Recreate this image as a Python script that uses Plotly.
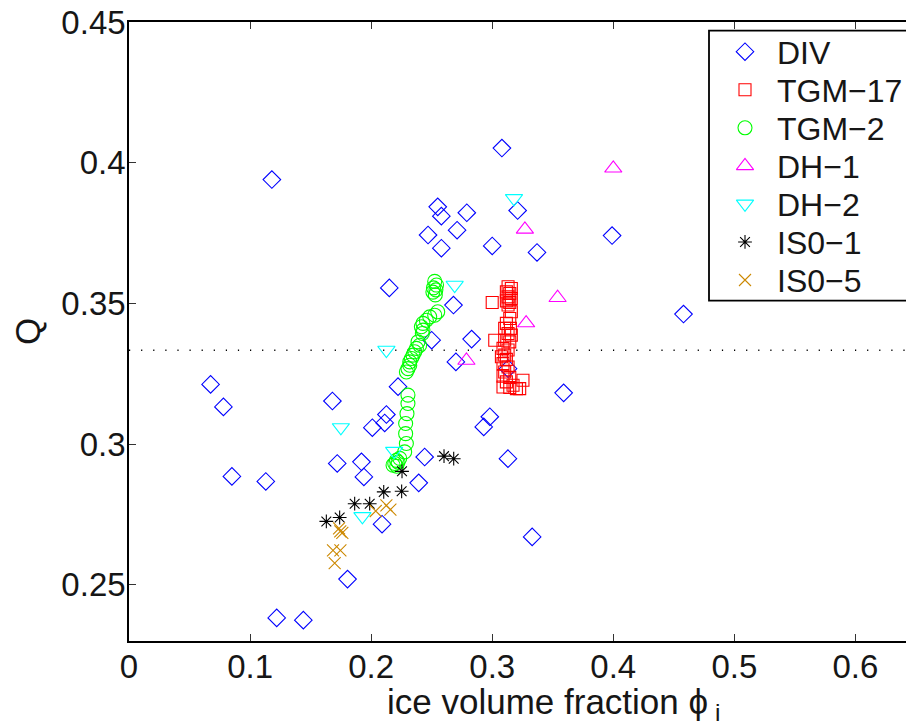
import plotly.graph_objects as go

# ---------------- data ----------------
div_x = [0.118, 0.255, 0.258, 0.247, 0.258, 0.215, 0.250, 0.308, 0.321, 0.279, 0.271, 0.399,
         0.300, 0.337, 0.268, 0.458, 0.283, 0.270, 0.0674, 0.078, 0.085, 0.113, 0.122, 0.144,
         0.168, 0.172, 0.192, 0.194, 0.201, 0.2126, 0.2112, 0.2222, 0.2442, 0.2393, 0.209,
         0.1805, 0.359, 0.298, 0.293, 0.313, 0.333, 0.3131]
div_y = [0.394, 0.3843, 0.381, 0.3743, 0.3696, 0.3555, 0.3369, 0.4052, 0.383, 0.3822, 0.376, 0.3741,
         0.3704, 0.3681, 0.3494, 0.3462, 0.3373, 0.3292, 0.3212, 0.3132, 0.2885, 0.2867, 0.2382, 0.2374,
         0.3153, 0.2931, 0.2937, 0.2883, 0.3058, 0.3105, 0.3075, 0.3204, 0.2954, 0.2862, 0.2715,
         0.252, 0.3182, 0.3097, 0.3061, 0.2948, 0.267, 0.3268]

tgm17_x = [0.300, 0.3131, 0.3158, 0.3117, 0.3145, 0.3131, 0.3158, 0.3117, 0.3145, 0.3131,
           0.3158, 0.3145, 0.3117, 0.3103, 0.3150, 0.3131, 0.3158, 0.3021, 0.3103, 0.3145,
           0.3089, 0.3131, 0.3103, 0.3076, 0.3117, 0.3089, 0.3131, 0.3103, 0.3089, 0.3145,
           0.3117, 0.3254, 0.3172, 0.3089, 0.3145, 0.3200, 0.3227]
tgm17_y = [0.3503, 0.3559, 0.3553, 0.3541, 0.3535, 0.3523, 0.3517, 0.3509, 0.3503, 0.3494,
           0.3470, 0.3446, 0.3429, 0.3411, 0.3411, 0.3393, 0.3387, 0.3369, 0.3369, 0.3363,
           0.3340, 0.3334, 0.3316, 0.3310, 0.3301, 0.3286, 0.3274, 0.3256, 0.3241, 0.3237,
           0.3221, 0.3227, 0.3209, 0.3203, 0.3201, 0.3197, 0.3197]

tgm2_x = [0.2525, 0.2540, 0.2515, 0.2535, 0.2510, 0.2530,
          0.2550, 0.2525, 0.2484, 0.2456, 0.2428, 0.2415, 0.2428, 0.2423,
          0.2387, 0.2401, 0.2374, 0.2360, 0.2346, 0.2333, 0.2319, 0.2319, 0.2304, 0.2291,
          0.2304, 0.2304, 0.2296, 0.2285, 0.2285, 0.2291, 0.2277,
          0.2209, 0.2195, 0.2222, 0.2181, 0.2236, 0.2211]
tgm2_y = [0.3578, 0.3565, 0.3555, 0.3548, 0.3540, 0.3530,
          0.3470, 0.3458, 0.3452, 0.3440, 0.3429, 0.3417, 0.3405, 0.3393,
          0.3363, 0.3351, 0.3340, 0.3328, 0.3316, 0.3304, 0.3292, 0.3280, 0.3268, 0.3256,
          0.3174, 0.3144, 0.3108, 0.3073, 0.3037, 0.3002, 0.2972,
          0.2942, 0.2931, 0.2936, 0.2925, 0.2949, 0.2921]

dh1_x = [0.400, 0.327, 0.354, 0.328, 0.2787]
dh1_y = [0.398, 0.3763, 0.352, 0.343, 0.3297]

dh2_x = [0.318, 0.269, 0.2126, 0.175, 0.219, 0.1928]
dh2_y = [0.3873, 0.3565, 0.3334, 0.3059, 0.2975, 0.2743]

is01_x = [0.163, 0.174, 0.1864, 0.1988, 0.2104, 0.2252, 0.2255, 0.2602, 0.2682]
is01_y = [0.2725, 0.2739, 0.2788, 0.2788, 0.2830, 0.2832, 0.2903, 0.2957, 0.2948]

is05_x = [0.1735, 0.1762, 0.1745, 0.1685, 0.1746, 0.1699, 0.2038, 0.2126, 0.2159]
is05_y = [0.2700, 0.2684, 0.2690, 0.2622, 0.2622, 0.2577, 0.2762, 0.2782, 0.2767]

q_ref = 1.0 / 3.0

x_tickvals = [0, 0.1, 0.2, 0.3, 0.4, 0.5, 0.6]
x_ticktext = ["0", "0.1", "0.2", "0.3", "0.4", "0.5", "0.6"]
y_tickvals = [0.25, 0.30, 0.35, 0.40, 0.45]
y_ticktext = ["0.25", "0.3", "0.35", "0.4", "0.45"]

names = ["DIV", "TGM\u221217", "TGM\u22122", "DH\u22121", "DH\u22122", "IS0\u22121", "IS0\u22125"]
colors = ["#0000FF", "#FF0000", "#00FF00", "#FF00FF", "#00FFFF", "#000000", "#CC8800"]
symbols = ["diamond-open", "square-open", "circle-open", "triangle-up-open",
           "triangle-down-open", "asterisk-open", "x-thin-open"]
sizes = [13.5, 12, 14, 15, 15, 11.5, 12]

# ---------------- figure ----------------
W, H = 906, 726
L, R, T, B = 129, 0, 22, 85
FONT = "Liberation Sans, Arial, Helvetica, sans-serif"
TXT = "#161616"
FS_TICK = 33
FS_TITLE = 35
FS_LEG = 32

fig = go.Figure()

series = [(div_x, div_y), (tgm17_x, tgm17_y), (tgm2_x, tgm2_y), (dh1_x, dh1_y),
          (dh2_x, dh2_y), (is01_x, is01_y), (is05_x, is05_y)]

# reference line
fig.add_trace(go.Scatter(x=[0, 0.7], y=[q_ref, q_ref], mode="lines",
                         line=dict(color="black", width=1.5, dash="1.2px,10.9px"),
                         showlegend=False, hoverinfo="skip"))

for (xs, ys), nm, c, s, sz in zip(series, names, colors, symbols, sizes):
    fig.add_trace(go.Scatter(x=xs, y=ys, mode="markers", name=nm, showlegend=False,
                             marker=dict(symbol=s, size=sz, color=c,
                                         line=dict(color=c, width=1.1))))

# manual legend (drawn on overlay axis with [0,1] range)
pw = W - L - R
ph = H - T - B
def px2x(px):
    return (px - L) / pw
def py2y(py):
    return (H - B - py) / ph

leg_x0, leg_y0, leg_y1 = 709, 30.7, 300.7
fig.add_shape(type="rect", xref="paper", yref="paper",
              x0=px2x(leg_x0), x1=px2x(W + 20), y0=py2y(leg_y1), y1=py2y(leg_y0),
              line=dict(color="black", width=1.8), fillcolor="white", layer="below")
first_py, step = 51.7, 38.05
for i, (nm, c, s, sz) in enumerate(zip(names, colors, symbols, sizes)):
    py = first_py + i * step
    fig.add_trace(go.Scatter(x=[px2x(745)], y=[py2y(py)], xaxis="x2", yaxis="y2",
                             mode="markers", showlegend=False, cliponaxis=False,
                             marker=dict(symbol=s, size=sz, color=c, line=dict(color=c, width=1.1)),
                             hoverinfo="skip"))
    fig.add_annotation(x=px2x(775), y=py2y(py + 1), xref="paper", yref="paper",
                       text=nm, showarrow=False, xanchor="left", yanchor="middle",
                       font=dict(family=FONT, size=FS_LEG, color=TXT))

# axis titles
fig.add_annotation(x=px2x(553), y=py2y(704), xref="paper", yref="paper",
                   text="ice volume fraction \u03d5<sub> i</sub>", showarrow=False,
                   xanchor="center", yanchor="middle",
                   font=dict(family=FONT, size=FS_TITLE, color=TXT))
fig.add_annotation(x=px2x(27), y=py2y(332), xref="paper", yref="paper",
                   text="Q", showarrow=False, textangle=-90,
                   xanchor="center", yanchor="middle",
                   font=dict(family=FONT, size=FS_TITLE, color=TXT))

x_max = (W - L) / 1210.7
fig.update_layout(
    width=W, height=H,
    margin=dict(l=L, r=R, t=T, b=B, pad=0),
    paper_bgcolor="white", plot_bgcolor="white",
    showlegend=False,
    font=dict(family=FONT, size=FS_TICK, color=TXT),
    xaxis=dict(range=[0, x_max], tickvals=x_tickvals, ticktext=x_ticktext,
               ticks="inside", ticklen=7, tickwidth=1, tickcolor="#333333",
               showline=True, linecolor="black", linewidth=1.6, mirror="ticks",
               showgrid=False, zeroline=False, ticklabelstandoff=-4,
               tickfont=dict(family=FONT, size=FS_TICK, color=TXT)),
    yaxis=dict(range=[0.23, 0.45], tickvals=y_tickvals, ticktext=y_ticktext,
               ticks="inside", ticklen=7, tickwidth=1, tickcolor="#333333",
               showline=True, linecolor="black", linewidth=1.6, mirror=False,
               showgrid=False, zeroline=False, ticklabelstandoff=-5,
               tickfont=dict(family=FONT, size=FS_TICK, color=TXT)),
    xaxis2=dict(overlaying="x", range=[0, 1], visible=False, fixedrange=True),
    yaxis2=dict(overlaying="y", range=[0, 1], visible=False, fixedrange=True),
)

fig.write_html("out.html")
